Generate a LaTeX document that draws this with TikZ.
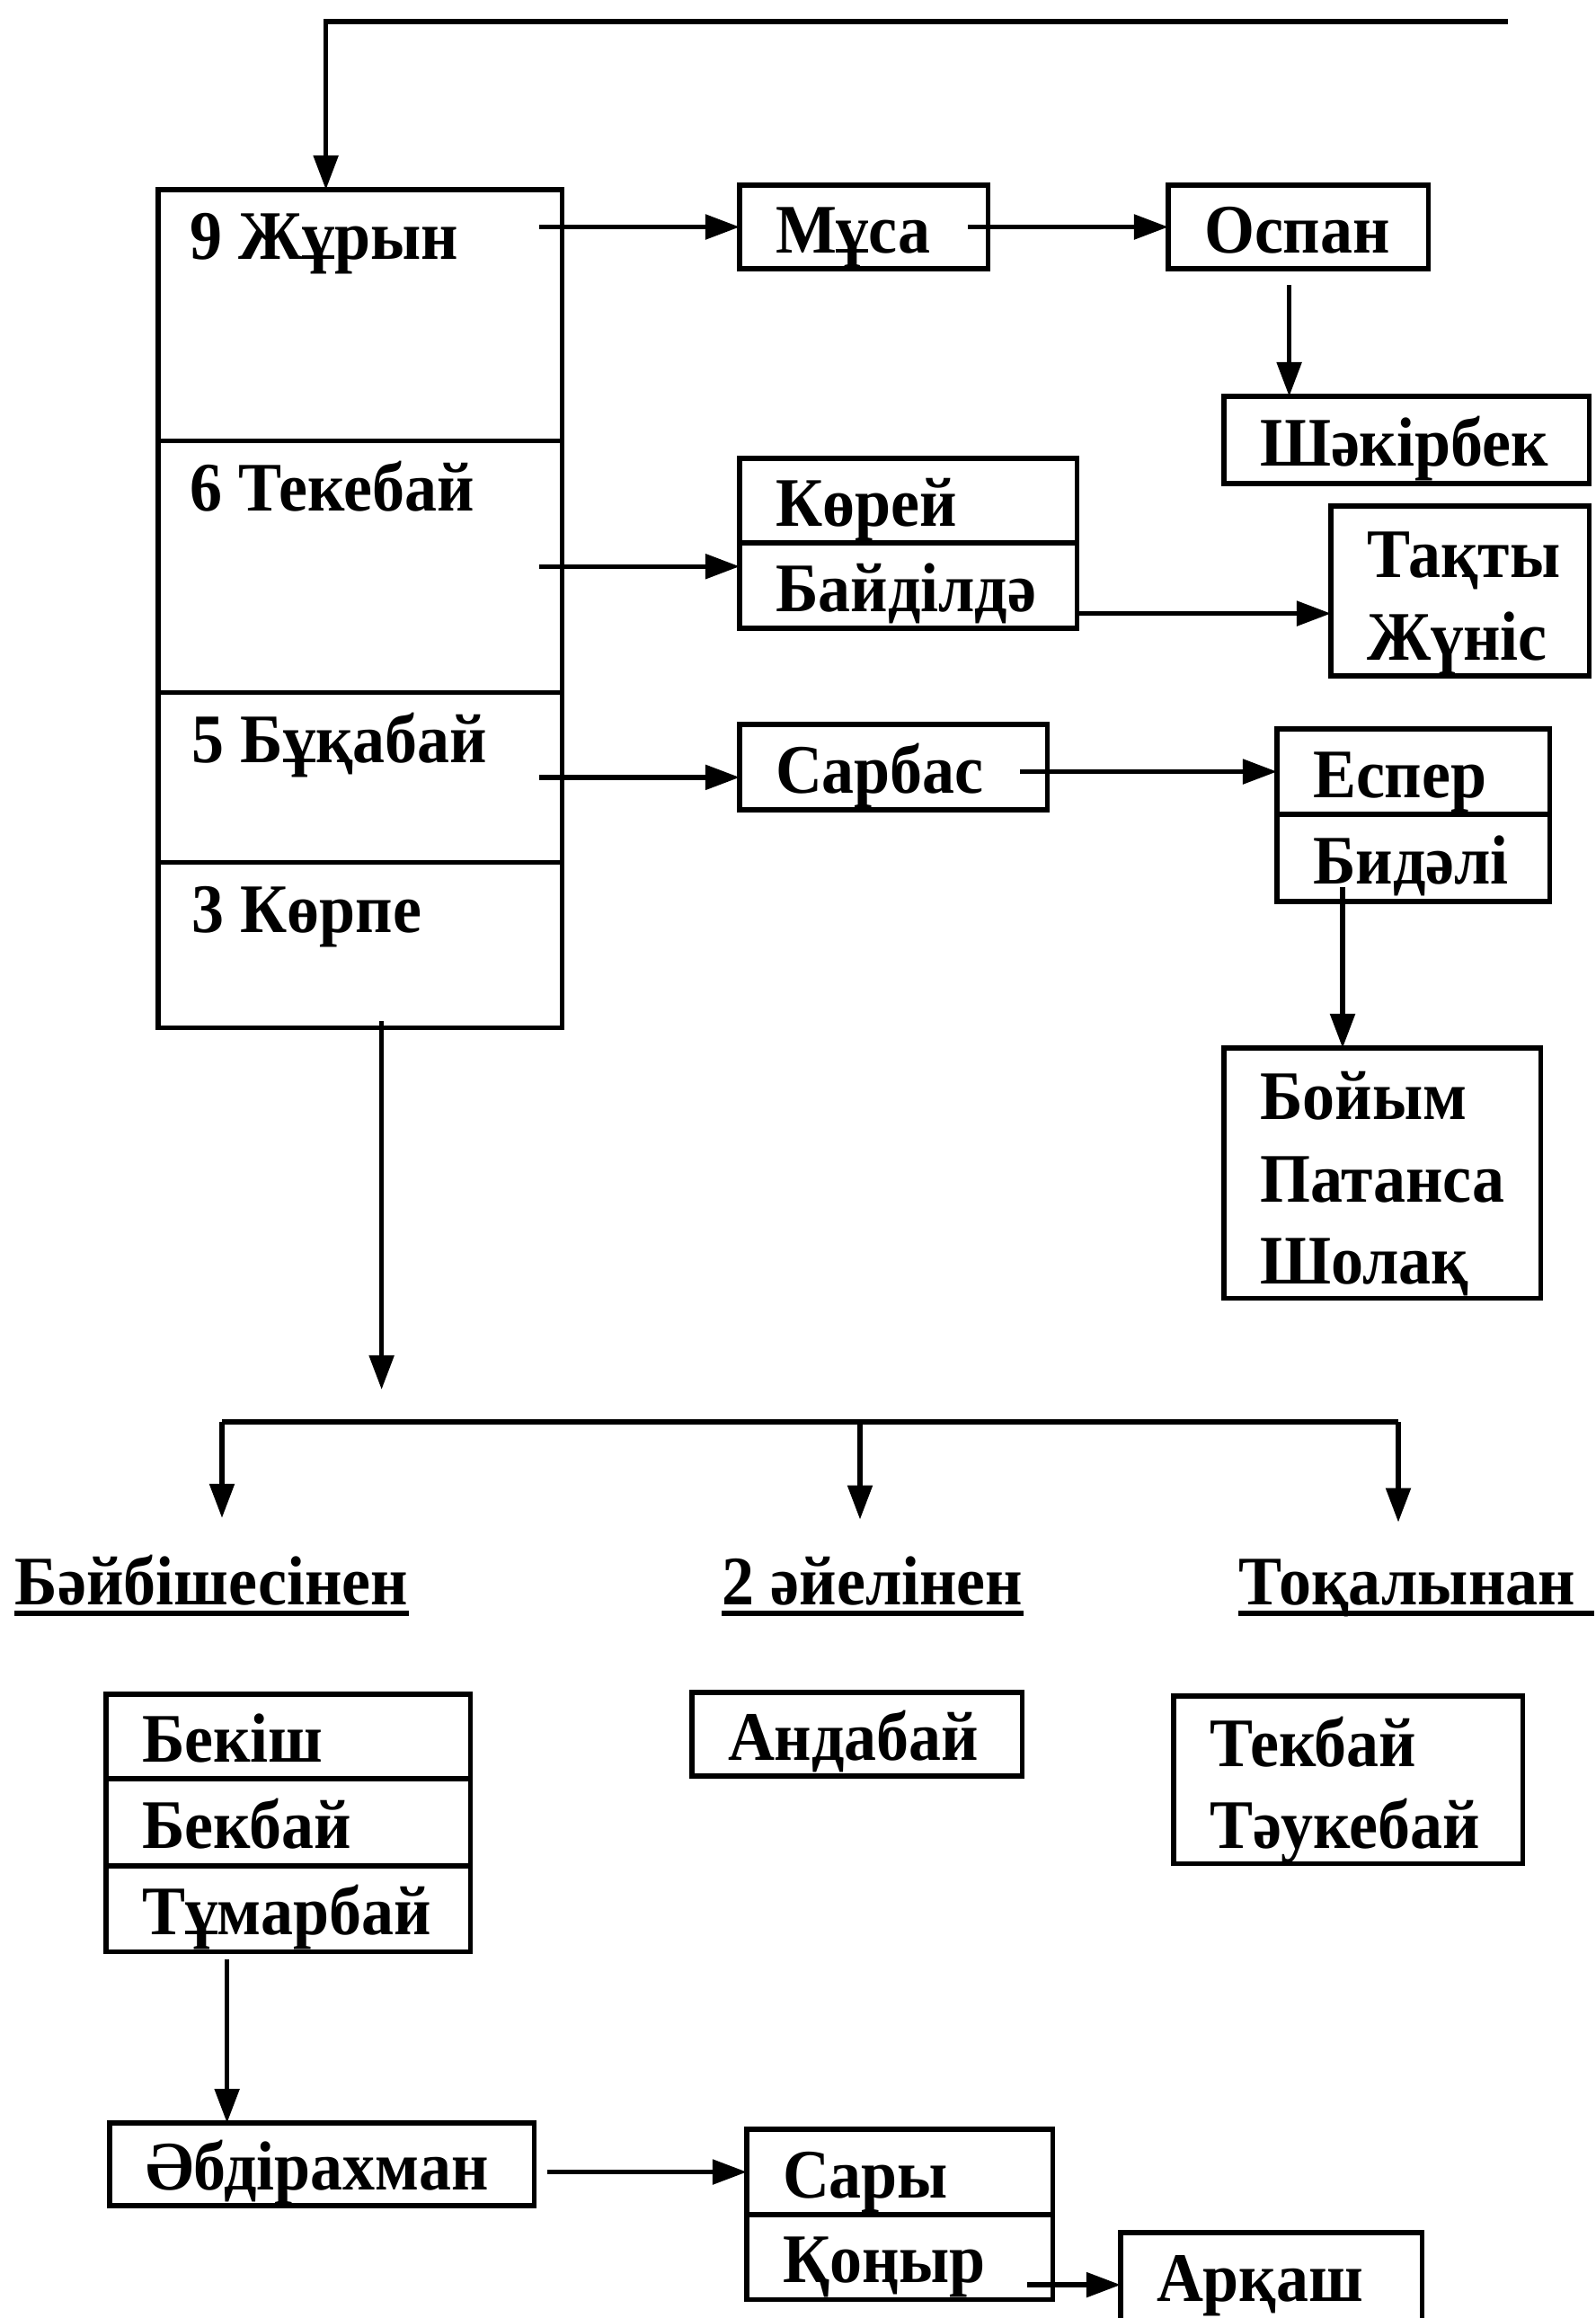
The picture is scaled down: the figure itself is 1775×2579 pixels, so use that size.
\documentclass[tikz,border=0pt]{standalone}
\usepackage{fontspec}
\setmainfont{Liberation Serif}[FakeStretch=0.93]
\usetikzlibrary{arrows.meta}
\usetikzlibrary{calc}
\usetikzlibrary{positioning}

\begin{document}
\begin{tikzpicture}[x=0.01cm, y=-0.01cm,
        wire/.style={line width=1.5pt},
        arr/.style={wire, -{Triangle[length=0.38cm,width=0.27cm]}},
        cell/.style={draw, line width=1.5pt, anchor=north west, inner sep=0pt, outer sep=0pt, minimum width=4.49cm},
        txt/.style={anchor=base west, inner sep=0pt, font=\fontsize{22}{26}\selectfont\bfseries},
        nbox/.style={draw, line width=1.5pt, anchor=north west, inner xsep=0.4cm, inner ysep=0pt, outer sep=0pt,
                     align=left, font=\fontsize{22}{26}\selectfont\bfseries,
                     text height=0.62cm, text depth=0.05cm},
        multi/.style={text height=0.78cm, text depth={}},
        uline/.style={line width=1.5pt}]
        \useasboundingbox (0,0) rectangle (1775,2579);

        \node [cell, minimum height=2.79cm] (r9) at (176,211) {};
        \node [cell, minimum height=2.80cm] (r6) at (r9.south west) {};
        \node [cell, minimum height=1.89cm] (r5) at (r6.south west) {};
        \node [cell, minimum height=1.84cm] (r3) at (r5.south west) {};
        \node [txt] (t9) at ($(r9.north west)+(35,78)$) {9 Жұрын};
        \node [txt] (t6) at ($(r6.north west)+(35,78)$) {6 Текебай};
        \node [txt] (t5) at ($(r5.north west)+(37,78)$) {5 Бұқабай};
        \node [txt] (t3) at ($(r3.north west)+(37,78)$) {3 Көрпе};

        \coordinate (topR) at (1678,24);
        \coordinate (feed) at ($(r9.north)+(-38,0)$);
        \draw [arr] (topR) -| (feed);

        \node [nbox, text width=1.96cm, minimum height=0.93cm] (musa) at (823,206) {Мұса};
        \node [nbox, text width=2.09cm, minimum height=0.93cm] (ospan) at (1300,206) {Оспан};
        \node [nbox, text width=3.26cm, minimum height=0.97cm] (shakir) at (1362,441) {Шәкірбек};
        \node [nbox, text width=2.95cm, minimum height=0.94cm] (kor) at (823,510) {Көрей};
        \node [nbox, text width=2.95cm, minimum height=0.95cm] (baid) at (kor.south west) {Байділдә};
        \node [nbox, multi, text width=2.07cm, minimum height=1.89cm] (taqty) at (1481,563) {Тақты\\Жүніс};
        \node [nbox, text width=2.62cm, minimum height=0.95cm] (sarbas) at (823,806) {Сарбас};
        \node [nbox, text width=2.23cm, minimum height=0.95cm] (esper) at (1421,811) {Еспер};
        \node [nbox, text width=2.23cm, minimum height=0.97cm] (bidali) at (esper.south west) {Бидәлі};
        \node [nbox, multi, text width=2.72cm, minimum height=2.78cm] (boyym) at (1362,1166) {Бойым\\Патанса\\Шолақ};

        \draw [arr] ($(r9.east |- musa.west)+(-25,0)$) -- (musa.west);
        \draw [arr] ($(ospan.west -| musa.east)+(-22,0)$) -- (ospan.west);
        \coordinate (c1) at ($(ospan.south)+(-10,18)$);
        \draw [arr] (c1) -- (c1 |- shakir.north);
        \draw [arr] ($(r6.east)+(-25,0)$) -- (r6.east -| baid.west);
        \coordinate (c2) at ($(baid.east)+(0,31)$);
        \draw [arr] (c2) -- (c2 -| taqty.west);
        \draw [arr] ($(r5.east)+(-25,0)$) -- (r5.east -| sarbas.west);
        \draw [arr] ($(esper.west -| sarbas.east)+(-30,0)$) -- (esper.west);
        \coordinate (c3) at ($(bidali.south west)+(73,-16)$);
        \draw [arr] (c3) -- (c3 |- boyym.north);

        \coordinate (c4) at ($(r3.south)+(24,-8)$);
        \coordinate (busL) at (247,1582);
        \coordinate (busM) at (957,1582);
        \coordinate (busR) at (1556,1582);
        \draw [arr, shorten >=0.36cm] (c4) -- (c4 |- busL);
        \draw [wire] (busL) -- (busR);

        \node [txt] (baib) at (16,1785) {Бәйбішесінен};
        \node [txt] (aiel) at (803,1785) {2 әйелінен};
        \node [txt] (toqal) at (1378,1785) {Тоқалынан};
        \draw [uline] ($(baib.base west)+(0,10)$) -- ($(baib.base east)+(0,10)$);
        \draw [uline] ($(aiel.base west)+(0,10)$) -- ($(aiel.base east)+(0,10)$);
        \draw [uline] ($(toqal.base west)+(0,10)$) -- ($(toqal.base east)+(20,10)$);
        \draw [arr, shorten >=0.4cm] (busL) -- (busL |- baib.north);
        \draw [arr, shorten >=0.4cm] (busM) -- (busM |- aiel.north);
        \draw [arr, shorten >=0.4cm] (busR) -- (busR |- toqal.north);

        \node [nbox, text width=3.25cm, minimum height=0.94cm] (bekish) at (118,1885) {Бекіш};
        \node [nbox, text width=3.25cm, minimum height=0.97cm] (bekbay) at (bekish.south west) {Бекбай};
        \node [nbox, text width=3.25cm, minimum height=0.95cm] (tumar) at (bekbay.south west) {Тұмарбай};
        \node [nbox, text width=2.87cm, minimum height=0.93cm] (anda) at (770,1883) {Андабай};
        \node [nbox, multi, text width=3.08cm, minimum height=1.86cm] (tekbay) at (1306,1887) {Текбай\\Тәукебай};

        \node [nbox, text width=3.92cm, minimum height=0.92cm] (abdi) at (122,2362) {Әбдірахман};
        \node [nbox, text width=2.60cm, minimum height=0.95cm] (sary) at (831,2369) {Сары};
        \node [nbox, text width=2.60cm, minimum height=0.94cm] (qonyr) at (sary.south west) {Қоңыр};
        \node [nbox, text width=2.55cm, minimum height=1.16cm, text height=0.41cm] (arqash) at (1247,2484) {Арқаш};

        \coordinate (c5) at ($(tumar.south)+(-68,9)$);
        \draw [arr] (c5) -- (c5 |- abdi.north);
        \draw [arr] ($(sary.west -| abdi.east)+(15,0)$) -- (sary.west);
        \coordinate (c6) at ($(qonyr.east)+(-28,31)$);
        \draw [arr] (c6) -- (c6 -| arqash.west);
\end{tikzpicture}
\end{document}
